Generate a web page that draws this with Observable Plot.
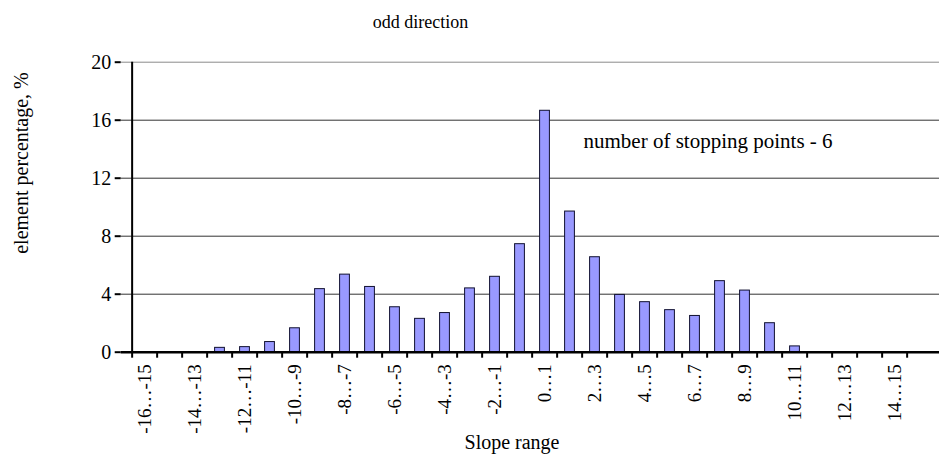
<!DOCTYPE html>
<html>
<head>
<meta charset="utf-8">
<script src="https://cdn.jsdelivr.net/npm/d3@7"></script>
<script src="https://cdn.jsdelivr.net/npm/@observablehq/plot@0.6"></script>
<style>
  html, body { margin: 0; padding: 0; background: #fff; overflow: hidden; }
  #chart svg, #chart svg text { font-family: "Liberation Serif", "Times New Roman", serif !important; }
</style>
</head>
<body>
<div id="chart"></div>
<script>
// Slope ranges (one bar per unit interval)
const categories = [
  "-16…-15", "-15…-14", "-14…-13", "-13…-12", "-12…-11", "-11…-10", "-10…-9", "-9…-8",
  "-8…-7", "-7…-6", "-6…-5", "-5…-4", "-4…-3", "-3…-2", "-2…-1", "-1…0",
  "0…1", "1…2", "2…3", "3…4", "4…5", "5…6", "6…7", "7…8",
  "8…9", "9…10", "10…11", "11…12", "12…13", "13…14", "14…15", "15…16"
];

// Share of elements in each slope range, %
const percentages = [
  0, 0, 0, 0.3, 0.35, 0.7, 1.65, 4.35,
  5.35, 4.5, 3.1, 2.3, 2.7, 4.4, 5.2, 7.45,
  16.65, 9.7, 6.55, 3.95, 3.45, 2.9, 2.5, 4.9,
  4.25, 2.0, 0.4, 0, 0, 0, 0, 0
];

// Labelled ranges on the horizontal axis (every second one)
const labeledCategories = [
  "-16…-15", "-14…-13", "-12…-11", "-10…-9", "-8…-7", "-6…-5", "-4…-3", "-2…-1",
  "0…1", "2…3", "4…5", "6…7", "8…9", "10…11", "12…13", "14…15"
];

const yTicks = [0, 4, 8, 12, 16, 20];
const gridMain = [4, 8, 12, 16];
const gridTop = [20];

const titleText = "odd direction";
const noteText = "number of stopping points - 6";
const xLabel = "Slope range";
const yLabel = "element percentage, %";

const data = categories.map((c, i) => ({range: c, value: percentages[i]}));

const W = 939, H = 454;
const mL = 120.7, mR = -5, mT = 61.7, mB = 102.3;
const step = (W - mL - mR) / categories.length;
const frameCX = (mL + W - mR) / 2;
const frameCY = (mT + H - mB) / 2;

const chart = Plot.plot({
  width: W,
  height: H,
  marginLeft: mL,
  marginRight: mR,
  marginTop: mT,
  marginBottom: mB,
  style: {
    fontFamily: "'Liberation Serif', 'Times New Roman', serif",
    fontSize: "18px",
    color: "#000",
    background: "#fff"
  },
  x: {domain: categories, padding: 0, axis: null},
  y: {domain: [0, 20], axis: null},
  marks: [
    // horizontal gridlines
    Plot.ruleY(gridMain, {stroke: "#333", strokeWidth: 1}),
    Plot.ruleY(gridTop, {stroke: "#8a8a8a", strokeWidth: 1}),
    // bars
    Plot.barY(data.filter(d => d.value > 0), {
      x: "range", y: "value",
      fill: "#9999ff", stroke: "#101030", strokeWidth: 1,
      insetLeft: 7.6, insetRight: 7.6
    }),
    // value axis
    Plot.axisY({ticks: yTicks, tickSize: 6, tickPadding: 4, fontSize: 20, label: null, strokeWidth: 2}),
    // category boundary ticks
    Plot.axisX({ticks: categories, tickSize: 6, tickFormat: () => "", dx: -step / 2, label: null, strokeWidth: 2}),
    // category labels
    Plot.axisX({ticks: labeledCategories, tickSize: 0, tickPadding: 12, tickRotate: -90, fontSize: 19, label: null}),
    // axis lines
    Plot.ruleX([categories[0]], {dx: -step / 2, y1: 0, y2: 20, stroke: "#000", strokeWidth: 2}),
    Plot.ruleY([0], {stroke: "#000", strokeWidth: 2.5}),
    // title
    Plot.text([titleText], {
      text: d => d, frameAnchor: "top-left", textAnchor: "middle", lineAnchor: "middle",
      dx: 420 - mL, dy: 22 - mT, fontSize: 18
    }),
    // annotation
    Plot.text([noteText], {
      text: d => d, frameAnchor: "top-left", textAnchor: "start", lineAnchor: "middle",
      dx: 583 - mL, dy: 141 - mT, fontSize: 21
    }),
    // axis titles
    Plot.text([yLabel], {
      text: d => d, frameAnchor: "left", rotate: -90, textAnchor: "middle", lineAnchor: "middle",
      dx: 21 - mL, dy: 162.5 - frameCY, fontSize: 20
    }),
    Plot.text([xLabel], {
      text: d => d, frameAnchor: "bottom", textAnchor: "middle", lineAnchor: "middle",
      dx: 511.5 - frameCX, dy: 442 - (H - mB), fontSize: 20
    })
  ]
});

document.getElementById("chart").append(chart);
</script>
</body>
</html>
